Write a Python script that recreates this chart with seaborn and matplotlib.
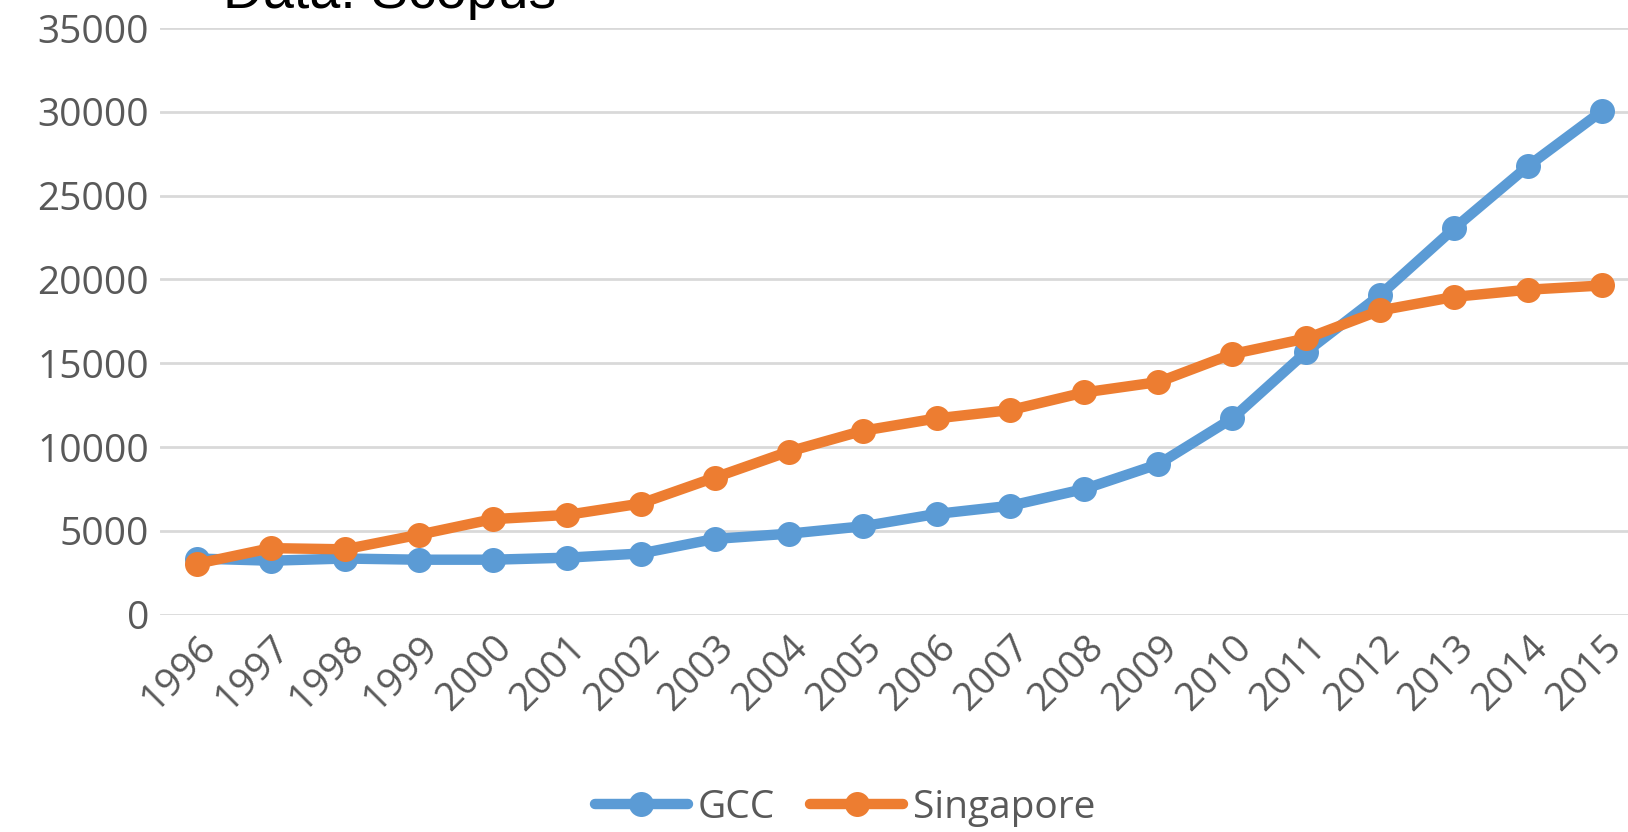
import pandas as pd
import numpy as np
import seaborn as sns
import matplotlib.pyplot as plt

years = list(range(1996, 2016))
gcc = [3350, 3220, 3350, 3280, 3280, 3400, 3650, 4520, 4830, 5270,
       6010, 6500, 7500, 8980, 11710, 15680, 19080, 23050, 26770, 30050]
singapore = [3040, 3970, 3900, 4770, 5700, 5950, 6630, 8180, 9730, 10970,
             11710, 12210, 13260, 13880, 15550, 16480, 18150, 18960, 19390, 19640]
series_names = ['GCC', 'Singapore']
colors = ['#5B9BD5', '#ED7D31']

df = pd.DataFrame({
    'Year': years * 2,
    'Value': gcc + singapore,
    'Series': [series_names[0]] * len(years) + [series_names[1]] * len(years),
})

sns.set_style('white')
plt.rcParams['font.family'] = ['Open Sans', 'DejaVu Sans']

fig = plt.figure(figsize=(16.28, 8.32), dpi=100)
ax = fig.add_axes([0.0983, 0.2612, 0.9085, 0.7051])

sns.lineplot(data=df, x='Year', y='Value', hue='Series', palette=colors,
             marker='o', markersize=18, markeredgewidth=0, linewidth=7.5,
             ax=ax, legend=False)

ax.set_xlim(1995.5, 2015.5)
ax.set_ylim(0, 35000)
ax.set_yticks(np.arange(0, 35001, 5000))
ax.set_xticks(years)
ax.set_xticklabels([str(y) for y in years], rotation=45, ha='right',
                   rotation_mode='anchor')
ax.tick_params(axis='both', labelsize=28, colors='#595959', length=0)
ax.tick_params(axis='x', pad=10)
ax.tick_params(axis='y', pad=8)
ax.grid(axis='y', color='#D9D9D9', linewidth=2)
ax.set_axisbelow(True)
for s in ax.spines.values():
    s.set_visible(False)
ax.set_xlabel('')
ax.set_ylabel('')

# legend under the plot, like the Excel original
handles = [plt.Line2D([], [], color=c, marker='o', markersize=18,
                      markeredgewidth=0, linewidth=7.5) for c in colors]
leg = fig.legend(handles, series_names, loc='lower center', ncol=2,
                 bbox_to_anchor=(0.519, -0.036), frameon=False, fontsize=28,
                 handlelength=2.4, handletextpad=0.25, columnspacing=0.9)
for t in leg.get_texts():
    t.set_color('#595959')

fig.text(0.137, 0.99, 'Data: Scopus', fontsize=40, color='black',
         family=['Liberation Sans', 'DejaVu Sans'], va='baseline')

fig.savefig('out.png', dpi=100)
